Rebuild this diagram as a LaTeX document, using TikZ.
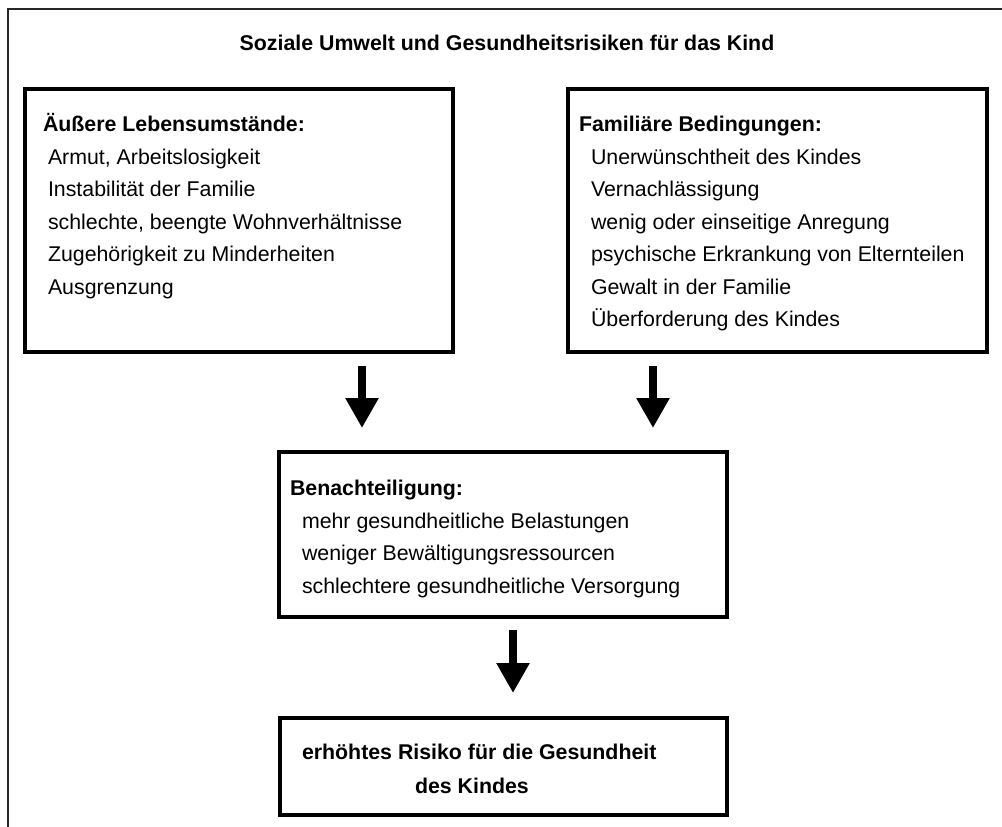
\documentclass[tikz,border=0pt]{standalone}
\usepackage{fontspec}
\setmainfont{Liberation Sans}
\usetikzlibrary{arrows.meta,fit}
\begin{document}
\begin{tikzpicture}[x=0.75pt,y=-0.75pt,
  every node/.style={inner sep=0pt, outer sep=0pt, font=\fontsize{16}{19}\selectfont},
  hd/.style={anchor=base west, font=\fontsize{16}{19}\selectfont\bfseries},
  itm/.style={anchor=base west},
  boxnode/.style={draw=black, line width=2.4pt, inner sep=0pt, outer sep=0pt},
  frameline/.style={draw=black!85, line width=1.5pt},
  bigarrow/.style={line width=6pt, -{Triangle[length=22.5pt,width=23.5pt]}}]
\useasboundingbox (0,0) rectangle (1002,826);
\clip (0,0) rectangle (1002,826);
% outer frame (cut off at the right and bottom)
\coordinate (fr1) at (1010,8.5);
\coordinate (fr2) at (8,8.5);
\coordinate (fr3) at (8,840);
\draw[frameline] (fr1) -- (fr2) -- (fr3);
% title
\node[anchor=base, font=\fontsize{16}{19}\selectfont\bfseries] (title) at (507,50) {Soziale Umwelt und Gesundheitsrisiken für das Kind};
% boxes
\node[boxnode, fit={(25,89) (453,352)}] (lbox) {};
\node[boxnode, fit={(568,89) (987,352)}] (rbox) {};
\node[boxnode, fit={(279,452) (727,617)}] (mbox) {};
\node[boxnode, fit={(280,718) (727,815)}] (bbox) {};
% left box text
\node[hd] (lh) at (43,131) {Äußere Lebensumstände:};
\node[itm] (l1) at (48,164) {Armut, Arbeitslosigkeit};
\node[itm] (l2) at (48,196.5) {Instabilität der Familie};
\node[itm] (l3) at (48,229) {schlechte, beengte Wohnverhältnisse};
\node[itm] (l4) at (48,261.5) {Zugehörigkeit zu Minderheiten};
\node[itm] (l5) at (48,294) {Ausgrenzung};
% right box text
\node[hd] (rh) at (579,131) {Familiäre Bedingungen:};
\node[itm] (r1) at (591,164) {Unerwünschtheit des Kindes};
\node[itm] (r2) at (591,196.5) {Vernachlässigung};
\node[itm] (r3) at (591,229) {wenig oder einseitige Anregung};
\node[itm] (r4) at (591,261.5) {psychische Erkrankung von Elternteilen};
\node[itm] (r5) at (591,294) {Gewalt in der Familie};
\node[itm] (r6) at (591,326.5) {Überforderung des Kindes};
% middle box text
\node[hd] (mh) at (290,495) {Benachteiligung:};
\node[itm] (m1) at (302,528) {mehr gesundheitliche Belastungen};
\node[itm] (m2) at (302,560.5) {weniger Bewältigungsressourcen};
\node[itm] (m3) at (302,593) {schlechtere gesundheitliche Versorgung};
% bottom box text
\node[hd] (b1) at (302,759) {erhöhtes Risiko für die Gesundheit};
\node[hd] (b2) at (415,793) {des Kindes};
% arrows
\coordinate (a1s) at (362,366);
\coordinate (a1e) at (362,428);
\coordinate (a2s) at (653,366);
\coordinate (a2e) at (653,428);
\coordinate (a3s) at (513,630);
\coordinate (a3e) at (513,693);
\draw[bigarrow] (a1s) -- (a1e);
\draw[bigarrow] (a2s) -- (a2e);
\draw[bigarrow] (a3s) -- (a3e);
\end{tikzpicture}
\end{document}
